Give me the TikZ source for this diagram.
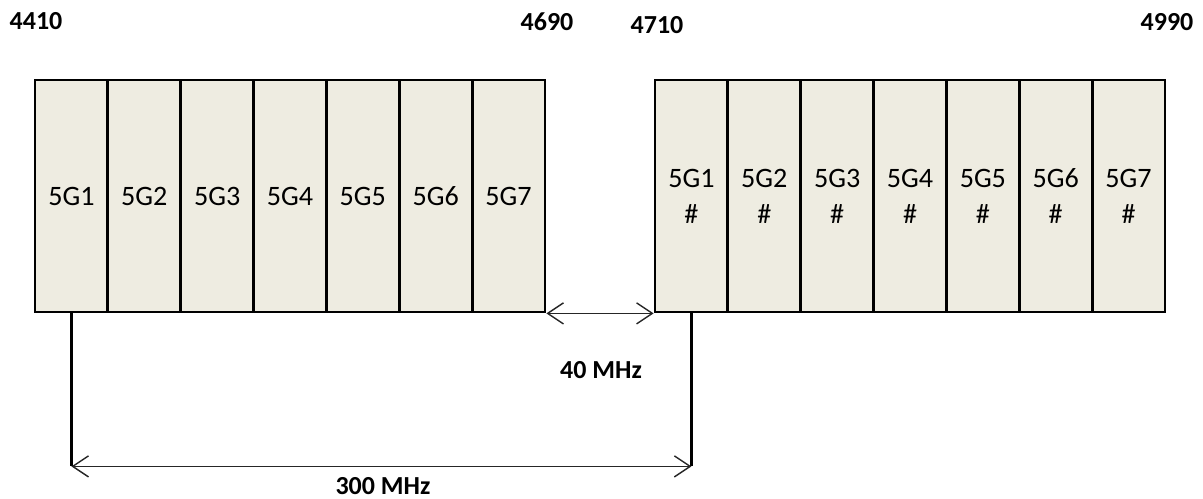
\documentclass[tikz,border=0pt]{standalone}
\usepackage{fontspec}
\setmainfont{Carlito}
\usetikzlibrary{arrows.meta, positioning, calc}

\definecolor{bandfill}{RGB}{238,236,225}

\begin{document}
\begin{tikzpicture}[
        x=0.02cm, y=-0.02cm,
        cell/.style={rectangle, draw=black, line width=1.6pt, fill=bandfill, minimum width=1.457cm, minimum height=4.64cm, inner sep=0pt, align=center, font=\fontsize{16}{20.5}\selectfont},
        freq/.style={font=\bfseries\fontsize{14.8}{17}\selectfont, inner sep=0pt},
        dim/.style={{Straight Barb[length=9pt, width=12pt, line width=0.8pt]}-{Straight Barb[length=9pt, width=12pt, line width=0.8pt]}, line width=0.9pt, draw=black!85},
        leg/.style={line width=1.6pt}
    ]
    \useasboundingbox (0,0) rectangle (1203,499);

    % Frequency marks
    \node[freq] (f4410) at (36,21) {4410};
    \node[freq] (f4690) at (547,22) {4690};
    \node[freq] (f4710) at (657,25) {4710};
    \node[freq] (f4990) at (1167,22) {4990};

    % Channel blocks
    \foreach \i [evaluate=\i as \xl using 35+72.857*(\i-0.5),
                 evaluate=\i as \xr using 655+72.857*(\i-0.5)] in {1,...,7} {
        \node[cell] (l\i) at (\xl,196) {5G\i};
        \node[cell] (r\i) at (\xr,196) {5G\i\\\#};
    }

    % Gap between blocks
    \draw[dim] (l7.south east) -- (r1.south west);
    \node[freq] (gap) at (601,370) {40 MHz};

    % Duplex spacing
    \coordinate (ll) at ($(l1.south)+(0,153)$);
    \coordinate (rr) at ($(r1.south)+(0,153)$);
    \draw[leg] (l1.south) -- (ll);
    \draw[leg] (r1.south) -- (rr);
    \draw[dim] (ll) -- (rr);
    \node[freq] (duplex) at (383,486) {300 MHz};

\end{tikzpicture}
\end{document}
